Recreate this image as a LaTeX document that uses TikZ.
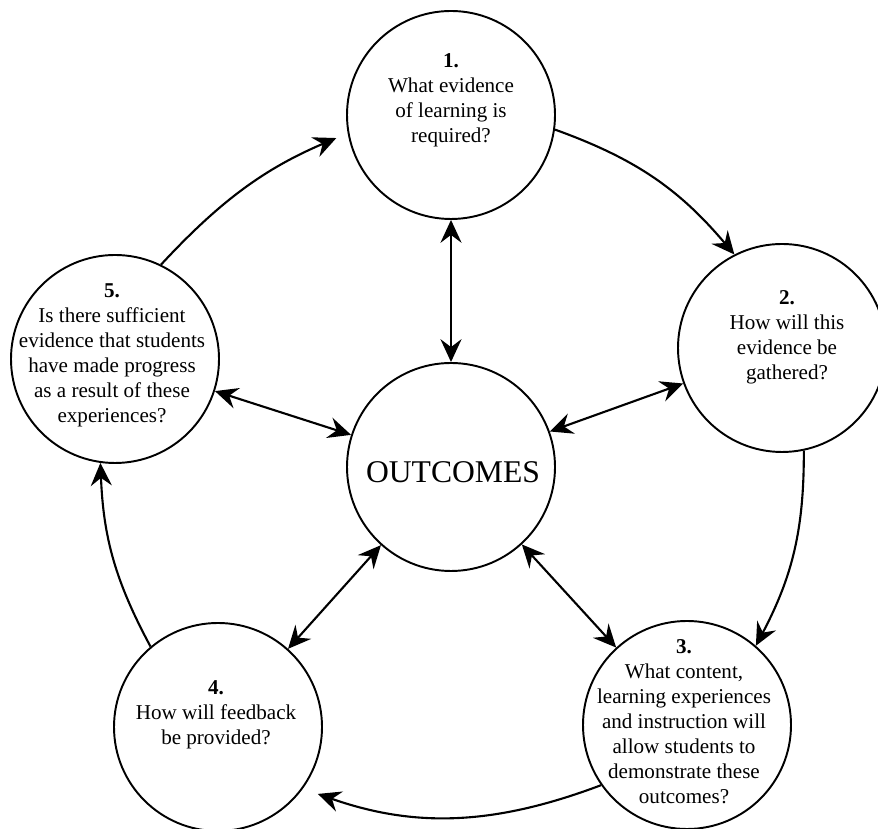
\documentclass[tikz,border=0pt]{standalone}
\usepackage{fontspec}
\setmainfont{Liberation Serif}
\usetikzlibrary{arrows.meta}

\begin{document}
\begin{tikzpicture}[
    bubble/.style={circle,draw,line width=1.1pt,minimum size=4.16cm,inner sep=0pt},
    question/.style={align=center,inner sep=0pt,font=\fontsize{12}{14.2}\selectfont},
    cycle/.style={line width=1.2pt,-{Stealth[length=13pt,width=12pt,inset=4.5pt]}},
    twoway/.style={line width=1.2pt,{Stealth[length=13pt,width=12pt,inset=4.5pt]}-{Stealth[length=13pt,width=12pt,inset=4.5pt]}}]
      \useasboundingbox (0,0) rectangle (17.56,16.58);
      \node[bubble] (core) at (9.02,7.24) {};
      \node[bubble] (q1) at (9.02,14.28) {};
      \node[bubble] (q2) at (15.64,9.62) {};
      \node[bubble] (q3) at (13.74,2.08) {};
      \node[bubble] (q4) at (4.36,2.04) {};
      \node[bubble] (q5) at (2.30,9.40) {};
      \node[font=\fontsize{18}{20}\selectfont] (coretext) at (9.06,7.14) {OUTCOMES};
      \node[question] (t1) at (9.02,14.58) {\textbf{1.}\\What evidence\\of learning is\\required?};
      \node[question] (t2) at (15.74,9.84) {\textbf{2.}\\How will this\\evidence be\\gathered?};
      \node[question] (t3) at (13.68,2.14) {\textbf{3.}\\What content,\\learning experiences\\and instruction will\\allow students to\\demonstrate these\\outcomes?};
      \node[question] (t4) at (4.32,2.28) {\textbf{4.}\\How will feedback\\be provided?};
      \node[question] (t5) at (2.24,9.48) {\textbf{5.}\\Is there sufficient\\evidence that students\\have made progress\\as a result of these\\experiences?};
      \draw[cycle,shorten >=7pt] (q5.64) to[bend left=12] (q1.190);
      \draw[cycle] (q1.-8) to[bend left=15] (q2.117);
      \draw[cycle] (q2.-78) to[bend left=14] (q3.49);
      \draw[cycle,shorten >=9pt] (q3.215) to[bend left=20] (q4.324);
      \draw[cycle] (q4.130) to[bend left=13] (q5.262);
      \draw[twoway] (core) -- (q1);
      \draw[twoway] (core) -- (q2);
      \draw[twoway] (core) -- (q3);
      \draw[twoway] (core) -- (q4);
      \draw[twoway] (core) -- (q5);
\end{tikzpicture}
\end{document}
